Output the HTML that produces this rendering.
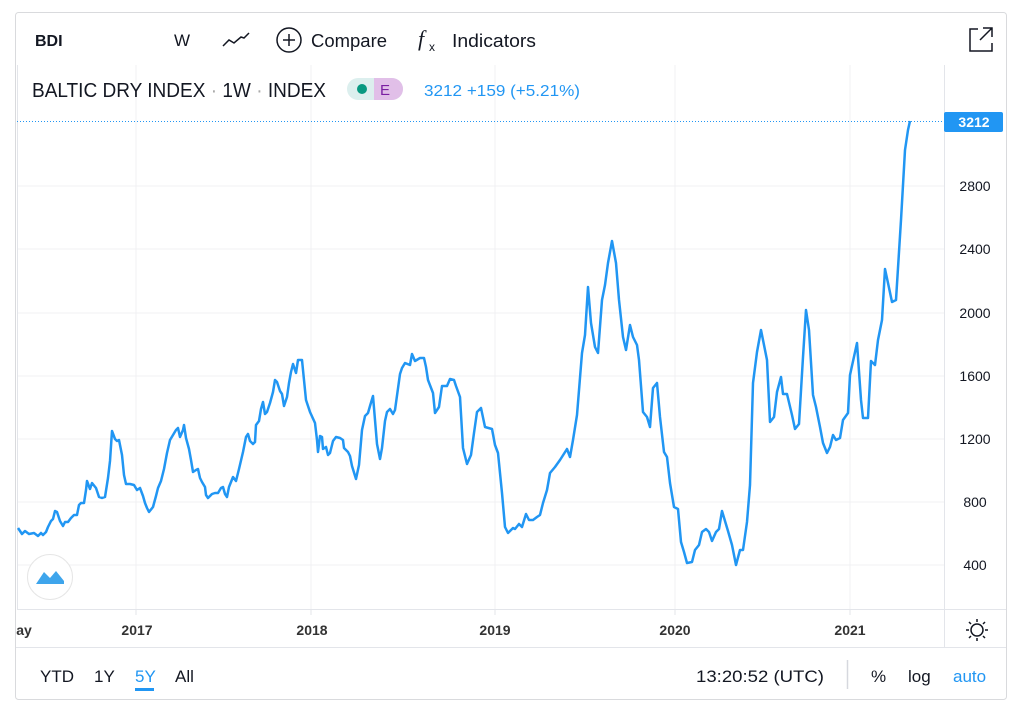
<!DOCTYPE html>
<html><head><meta charset="utf-8"><style>
body{margin:0;background:#fff;font-family:"Liberation Sans",sans-serif;}
</style></head><body>
<svg width="1026" height="714" xmlns="http://www.w3.org/2000/svg" style="display:block;font-family:'Liberation Sans',sans-serif">
<rect x="15.5" y="12.5" width="991" height="687" rx="3" fill="#fff" stroke="#d9dadd"/>
<!-- grid -->
<g stroke="#f0f1f3" stroke-width="1">
<line x1="136" y1="65" x2="136" y2="609"/><line x1="311" y1="65" x2="311" y2="609"/><line x1="495" y1="65" x2="495" y2="609"/><line x1="675" y1="65" x2="675" y2="609"/><line x1="850" y1="65" x2="850" y2="609"/>
<line x1="17" y1="186" x2="944" y2="186"/><line x1="17" y1="249" x2="944" y2="249"/><line x1="17" y1="313" x2="944" y2="313"/><line x1="17" y1="376" x2="944" y2="376"/><line x1="17" y1="439" x2="944" y2="439"/><line x1="17" y1="502" x2="944" y2="502"/><line x1="17" y1="565" x2="944" y2="565"/>
</g>
<g stroke="#e3e5ea"><line x1="944.5" y1="65" x2="944.5" y2="647"/><line x1="17" y1="609.5" x2="1006" y2="609.5"/><line x1="16" y1="647.5" x2="1006" y2="647.5"/><line x1="17.5" y1="65" x2="17.5" y2="609"/>
<line x1="136" y1="609" x2="136" y2="615"/><line x1="311" y1="609" x2="311" y2="615"/><line x1="495" y1="609" x2="495" y2="615"/><line x1="675" y1="609" x2="675" y2="615"/><line x1="850" y1="609" x2="850" y2="615"/></g>
<!-- header -->
<text x="35" y="46" font-size="16" font-weight="bold" fill="#131722">BDI</text>
<text x="174" y="46" font-size="17" fill="#131722">W</text>
<polyline points="223,46 229,40 234,43 241,37 244,38 249,33" fill="none" stroke="#131722" stroke-width="1.5"/>
<circle cx="289" cy="40" r="12" fill="none" stroke="#131722" stroke-width="1.5"/>
<line x1="283" y1="40" x2="295" y2="40" stroke="#131722" stroke-width="1.5"/><line x1="289" y1="34" x2="289" y2="46" stroke="#131722" stroke-width="1.5"/>
<text x="311" y="47" font-size="18" fill="#131722" textLength="76" lengthAdjust="spacingAndGlyphs">Compare</text>
<text x="418" y="46" font-size="22" font-style="italic" font-family="Liberation Serif" fill="#131722">f</text>
<text x="429" y="51" font-size="12" fill="#131722">x</text>
<text x="452" y="47" font-size="18" fill="#131722" textLength="84" lengthAdjust="spacingAndGlyphs">Indicators</text>
<path d="M978 29 H970 V51 H992 V43 M983 28 H992 V37 M992 28 L980 40" fill="none" stroke="#131722" stroke-width="1.5"/>
<!-- legend -->
<text x="32" y="97" font-size="20" fill="#131722" textLength="294" lengthAdjust="spacingAndGlyphs">BALTIC DRY INDEX <tspan fill="#aaa">·</tspan> 1W <tspan fill="#aaa">·</tspan> INDEX</text>
<rect x="347" y="78" width="56" height="22" rx="11" fill="#dcefee"/>
<path d="M374 78 H392 A11 11 0 0 1 392 100 H374 Z" fill="#e1bfe8"/>
<circle cx="362" cy="89" r="5" fill="#089981"/>
<text x="380" y="95" font-size="15" fill="#7b1fa2">E</text>
<text x="424" y="96" font-size="16" fill="#2196f3" textLength="156" lengthAdjust="spacingAndGlyphs">3212  +159 (+5.21%)</text>
<line x1="17" y1="121.5" x2="944" y2="121.5" stroke="#2196f3" stroke-dasharray="1,2"/>
<!-- series -->
<polyline fill="none" stroke="#2196f3" stroke-width="2.5" stroke-linejoin="round" points="18,528 22,534 25,531 29,534 34,533 38,536 41,533 43,535 46,532 48,527 51,521 53,519 55,511 57,512 60,521 63,526 65,522 68,522 71,518 74,515 77,515 79,505 81,503 84,503 86,490 87,481 90,489 92,483 96,488 99,497 102,498 105,497 108,478 110,461 112,431 115,439 117,441 119,440 122,455 124,475 126,484 130,484 134,485 137,490 140,488 143,496 145,503 147,508 149,512 153,507 156,496 158,488 161,481 164,469 167,453 170,440 173,435 176,430 178,428 180,437 183,430 184,425 186,438 189,449 191,460 193,472 196,470 198,469 200,478 202,482 205,487 206,495 208,498 212,494 215,493 218,493 221,488 223,487 225,494 227,497 229,487 233,477 236,481 239,469 243,452 246,437 248,434 250,441 253,444 255,442 256,425 259,421 261,409 263,402 265,414 267,412 270,403 273,392 275,380 277,382 280,391 282,394 284,406 287,397 289,383 291,372 293,364 296,373 298,360 302,360 306,400 310,412 315,423 317,440 318,452 320,436 322,437 323,449 326,447 328,455 330,453 333,441 336,437 340,438 343,440 344,448 348,452 350,456 352,466 356,479 359,465 362,430 365,416 368,413 370,406 373,396 377,444 380,459 382,448 385,421 387,412 390,409 393,414 395,410 400,374 402,368 405,363 410,365 412,354 415,361 420,358 424,358 426,367 428,380 433,393 435,413 439,407 442,386 447,386 450,379 454,380 456,386 460,397 463,448 467,464 471,455 474,433 477,412 481,408 485,427 492,429 495,445 498,453 502,493 505,527 508,533 513,528 515,529 519,524 522,527 526,514 529,520 533,520 537,517 540,515 543,503 547,490 550,473 555,467 560,460 567,449 570,457 573,440 577,415 582,353 585,335 588,287 591,323 595,347 598,353 602,300 605,285 608,263 612,241 616,263 619,300 623,337 626,350 630,325 633,337 637,345 639,360 643,412 647,417 650,427 653,388 657,383 660,417 664,452 667,457 670,483 674,507 678,509 681,542 684,552 687,563 692,562 695,550 699,545 702,532 706,529 709,532 712,541 716,532 719,529 722,511 728,531 732,545 736,565 740,550 743,550 747,522 750,485 753,383 757,352 761,330 767,360 770,422 774,417 777,392 781,377 783,394 787,394 792,415 795,429 799,424 803,357 806,310 809,330 813,395 816,407 820,427 823,443 827,453 830,447 833,435 836,440 840,438 843,420 848,413 850,375 857,343 861,400 863,418 868,418 871,361 875,365 878,340 882,320 885,269 888,283 892,302 896,300 901,220 905,150 908,130 910,121"/>
<!-- price axis -->
<g font-size="14" fill="#131722" text-anchor="middle">
<text x="975" y="191">2800</text><text x="975" y="254">2400</text><text x="975" y="318">2000</text><text x="975" y="381">1600</text><text x="975" y="444">1200</text><text x="975" y="507">800</text><text x="975" y="570">400</text>
</g>
<rect x="944" y="112" width="59" height="20" rx="2" fill="#2196f3"/>
<text x="974" y="127" font-size="14" font-weight="bold" fill="#fff" text-anchor="middle">3212</text>
<!-- time axis -->
<g font-size="14" font-weight="bold" fill="#333" text-anchor="middle">
<text x="24" y="635">ay</text><text x="137" y="635">2017</text><text x="312" y="635">2018</text><text x="495" y="635">2019</text><text x="675" y="635">2020</text><text x="850" y="635">2021</text>
</g>
<g stroke="#131722" stroke-width="1.5" fill="none">
<circle cx="977" cy="630" r="6"/>
<path d="M977 619v3M977 638v3M966 630h3M985 630h3M969 622l2 2M983 636l2 2M985 622l-2 2M969 638l2-2"/>
</g>
<!-- logo -->
<circle cx="50" cy="577" r="22.5" fill="#fff" stroke="#e6e6e6"/>
<path d="M36 584 L44 572 L50 578 L56 571 L64 581 L64 584 Z" fill="#3ea5ec"/>
<!-- bottom bar -->
<g font-size="17" fill="#131722">
<text x="40" y="682">YTD</text><text x="94" y="682">1Y</text><text x="135" y="682" fill="#2196f3">5Y</text><text x="175" y="682">All</text>
<text x="696" y="682" textLength="128" lengthAdjust="spacingAndGlyphs">13:20:52 (UTC)</text><text x="871" y="682">%</text><text x="908" y="682">log</text><text x="953" y="682" fill="#2196f3">auto</text>
</g>
<rect x="135" y="688" width="19" height="3" fill="#2196f3"/>
<line x1="847.5" y1="660" x2="847.5" y2="689" stroke="#d6d8de" stroke-width="1.5"/>
</svg>
</body></html>
